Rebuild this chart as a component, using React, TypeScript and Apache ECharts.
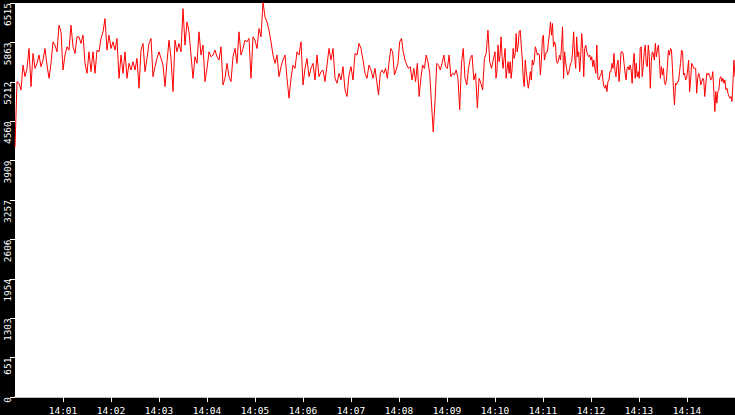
import { useEffect, useRef } from "react";
import * as echarts from "echarts";

// readings, one array per 2.5 minute window (14:00:00 .. 14:15:00)
const window1 = [
  4130, 5215, 5188, 5078, 5489, 5297, 5434, 5763, 5133, 5681,
  5434, 5517, 5654, 5462, 5571, 5763, 5489, 5270, 5517, 5873,
  5818, 5708, 6147, 6038, 5407, 5654, 5791, 5736, 6147, 5791,
  5681, 5955, 5955, 5846, 5983, 5517, 5352, 5708, 5380, 5708,
  5352, 5736, 5708, 5928, 6038, 6257, 5736, 5983, 5763, 5873,
  5736, 5928, 5270, 5654, 5352, 5708, 5270, 5517, 5407, 5544,
];
const window2 = [
  5407, 5599, 5105, 5736, 5846, 5380, 5599, 5846, 5928, 5297,
  5462, 5599, 5708, 5599, 5489, 5133, 5544, 5900, 5599, 5050,
  5900, 5708, 5846, 5708, 6421, 5818, 6202, 6038, 5654, 5270,
  5626, 5517, 6038, 5654, 5818, 5215, 5434, 5708, 5626, 5654,
  5736, 5626, 5571, 5791, 5160, 5270, 5517, 5297, 5215, 5626,
  5763, 5517, 6038, 5654, 5763, 5900, 5873, 5928, 5270, 5955,
];
const window3 = [
  5900, 5763, 6092, 5955, 6530, 6284, 6202, 6065, 5873, 5654,
  5517, 5654, 5297, 5462, 5571, 5654, 5270, 4941, 5270, 5489,
  5434, 5708, 5654, 5873, 5160, 5434, 5599, 5297, 5434, 5517,
  5242, 5654, 5297, 5380, 5407, 5215, 5489, 5763, 5571, 5763,
  5270, 5188, 5352, 5242, 5462, 5078, 4969, 5325, 5462, 5242,
  5681, 5654, 5846, 5763, 5571, 5352, 5270, 5489, 5407, 5270,
];
const window4 = [
  5434, 5215, 4996, 5352, 5407, 5352, 5434, 5270, 5544, 5763,
  5708, 5325, 5407, 5517, 5873, 5928, 5708, 5571, 5489, 5434,
  5462, 5242, 5434, 5215, 5517, 4969, 5270, 5489, 5434, 5654,
  5544, 5352, 4859, 4382, 4886, 5517, 5489, 5407, 5517, 5654,
  5462, 5434, 5654, 5297, 5352, 5325, 5407, 5270, 4749, 5517,
  5763, 5270, 5160, 5434, 5599, 5654, 5242, 5352, 4777, 5270,
  5188, 5078, 5599, 5681, 6065, 5544, 5434, 5571,
];
const window5 = [
  5708, 5270, 5407, 5818, 5544, 5654, 5955, 5626, 5434, 5599,
  5763, 5270, 5434, 5544, 5352, 5544, 5270, 5434, 5763, 5599,
  5681, 6010, 5708, 5818, 6038, 6065, 5818, 5599, 5270, 5133,
  5571, 5380, 5242, 5105, 5215, 5380, 5242, 5571, 5489, 5571,
  5791, 5736, 5654, 5681, 5654, 5325, 5571, 5928, 5983, 5571,
  5654, 5708, 5708, 5873, 6010, 6202, 5983, 6175, 5791, 5873,
  5818, 5544, 5517, 5571, 5654, 5571, 5818, 6120, 5270, 5708,
  5544, 5434, 5325, 5352, 5434, 5517, 5544, 5736, 6038, 5654,
  5434, 5955, 5626, 5708, 5380, 5654, 6010, 5763, 5297, 5763,
  5818, 5708, 5654, 5626, 5654, 5571, 5626, 5462, 5571, 5434,
  5352, 5818, 5270, 5242, 5297, 5325, 5407, 5242, 5133, 5105,
  5160, 5050, 5215, 5242, 5380, 5380, 5517, 5434, 5681,
];
const window6 = [
  5380, 5297, 5489, 5571, 5215, 5407, 5708, 5708, 5681, 5517,
  5352, 5242, 5434, 5462, 5407, 5489, 5407, 5188, 5517, 5681,
  5270, 5517, 5297, 5380, 5270, 5763, 5791, 5297, 5462, 5708,
  5818, 5517, 5462, 5818, 5626, 5105, 5544, 5708, 5681, 5571,
  5846, 5626, 5736, 5818, 5599, 5270, 5462, 5325, 5434, 5215,
  5160, 5242, 5489, 5736, 5654, 5763, 5736, 5434, 5078, 4831,
  5188, 5160, 5215, 5215, 5380, 5517, 5736, 5708, 5325, 5352,
  5242, 5270, 5407, 5571, 5050, 5242, 5517, 5489, 5434, 5434,
  5434, 5023, 5270, 5352, 5297, 5160, 5215, 5270, 5242, 4969,
  5160, 5352, 5325, 5352, 5297, 5242, 5270, 5380, 5050, 4722,
  5050, 4859, 5050, 5078, 5270, 5297, 5215, 5270, 5188, 5242,
  5078, 5105, 5023, 4969, 4941, 4969, 4886, 5215, 5571, 5297,
];

const windows = [window1, window2, window3, window4, window5, window6];
const WINDOW_SECONDS = 150;
const Y_MAX = 6515;
const Y_STEP = 651.5;

function pad(n: number) {
  return n < 10 ? `0${n}` : `${n}`;
}

function buildSeries() {
  const points: [number, number][] = [];
  windows.forEach((values, w) => {
    const last = w === windows.length - 1;
    const div = last ? values.length - 1 : values.length;
    values.forEach((v, i) => {
      points.push([w * WINDOW_SECONDS + (i / div) * WINDOW_SECONDS, v]);
    });
  });
  return points;
}

const labelFont = {
  color: "#ffffff",
  fontFamily: "DejaVu Sans Mono",
  fontSize: 9.5,
};

function TrendChart() {
  const ref = useRef<HTMLDivElement>(null);

  useEffect(() => {
    if (!ref.current) return;
    const chart = echarts.init(ref.current, undefined, { renderer: "svg" });
    chart.setOption({
      animation: false,
      backgroundColor: "#000000",
      grid: {
        left: 15,
        right: 0,
        top: 1,
        bottom: 17,
        show: true,
        backgroundColor: "#ffffff",
        borderWidth: 0,
      },
      xAxis: {
        type: "value",
        min: 0,
        max: 900,
        interval: 60,
        axisLine: { show: true, lineStyle: { color: "#ffffff", width: 1.5 } },
        axisTick: { show: true, length: 5, lineStyle: { color: "#ffffff" } },
        splitLine: { show: false },
        axisLabel: {
          ...labelFont,
          margin: 8,
          showMinLabel: false,
          showMaxLabel: false,
          formatter: (v: number) => `14:${pad(Math.round(v / 60))}`,
        },
      },
      yAxis: {
        type: "value",
        min: 0,
        max: Y_MAX,
        interval: Y_STEP,
        axisLine: { show: false },
        axisTick: { show: true, length: 5, lineStyle: { color: "#ffffff" } },
        splitLine: { show: false },
        axisLabel: {
          ...labelFont,
          rotate: 90,
          align: "right",
          verticalAlign: "middle",
          margin: 8,
          formatter: (v: number) => `${Math.floor(v + 1e-6)}`,
        },
      },
      series: [
        {
          type: "line",
          data: buildSeries(),
          showSymbol: false,
          symbol: "none",
          lineStyle: { color: "#ff0000", width: 1 },
          clip: true,
        },
      ],
    });
    return () => chart.dispose();
  }, []);

  return (
    <div
      ref={ref}
      style={{ position: "fixed", left: 0, top: 0, width: 735, height: 415 }}
    />
  );
}

export default function App() {
  return <TrendChart />;
}
